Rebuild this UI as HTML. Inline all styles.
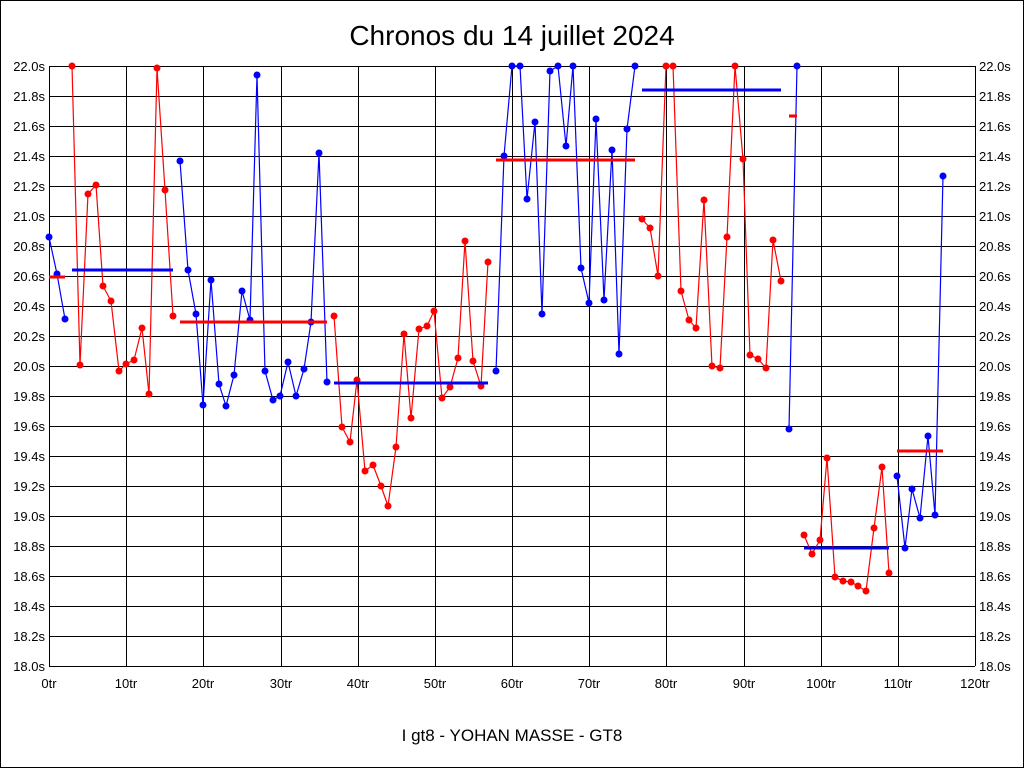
<!DOCTYPE html>
<html><head><meta charset="utf-8"><style>
html,body{margin:0;padding:0;background:#fff;}
svg{display:block;font-family:"Liberation Sans",Arial,sans-serif;}
</style></head><body>
<svg id="s" width="1024" height="768" viewBox="0 0 1024 768" xmlns="http://www.w3.org/2000/svg">
<rect x="0.5" y="0.5" width="1023" height="767" fill="#fff" stroke="#000"/>
<text x="512" y="45" font-size="28" text-anchor="middle">Chronos du 14 juillet 2024</text>
<text x="512" y="741" font-size="17" text-anchor="middle">I gt8 - YOHAN MASSE - GT8</text>
<g id="grid" stroke="#000" stroke-width="1"></g>
<g id="lab" font-size="13"></g>
<g id="data"></g>
</svg>
<script>
var NS="http://www.w3.org/2000/svg";
function el(p,t,a,txt){var e=document.createElementNS(NS,t);for(var k in a)e.setAttribute(k,a[k]);if(txt!=null)e.textContent=txt;p.appendChild(e);return e;}
var g=document.getElementById('grid'),l=document.getElementById('lab'),d=document.getElementById('data');
for(var i=0;i<=20;i++){var y=66+i*30;el(g,'line',{x1:49,x2:975,y1:y+.5,y2:y+.5});
var v=(22-i*0.2).toFixed(1)+'s';
el(l,'text',{x:45,y:y+5,'text-anchor':'end'},v);el(l,'text',{x:979,y:y+5},v);}
for(var j=0;j<=12;j++){var x=Math.round(49+j*926/12);el(g,'line',{x1:x+.5,x2:x+.5,y1:66,y2:666});
el(l,'text',{x:x,y:688,'text-anchor':'middle'},(j*10)+'tr');}
var R='#ff0000',B='#0000ff';
var segs=[
[B,[[49,237],[57,274],[65,319]],[277,49,65,R]],
[R,[[72,66],[80,365],[88,194],[96,185],[103,286],[111,301],[119,371],[126,364],[134,360],[142,328],[149,394],[157,68],[165,190],[173,316]],[270,72,173,B]],
[B,[[180,161],[188,270],[196,314],[203,405],[211,280],[219,384],[226,406],[234,375],[242,291],[250,320],[257,75],[265,371],[273,400],[280,396],[288,362],[296,396],[304,369],[311,322],[319,153],[327,382]],[322,180,327,R]],
[R,[[334,316],[342,427],[350,442],[357,380],[365,471],[373,465],[381,486],[388,506],[396,447],[404,334],[411,418],[419,329],[427,326],[434,311],[442,398],[450,387],[458,358],[465,241],[473,361],[481,386],[488,262]],[383,334,488,B]],
[B,[[496,371],[504,156],[512,66],[520,66],[527,199],[535,122],[542,314],[550,71],[558,66],[566,146],[573,66],[581,268],[589,303],[596,119],[604,300],[612,150],[619,354],[627,129],[635,66]],[160,496,635,R]],
[R,[[642,219],[650,228],[658,276],[666,66],[673,66],[681,291],[689,320],[696,328],[704,200],[712,366],[720,368],[727,237],[735,66],[743,159],[750,355],[758,359],[766,368],[773,240],[781,281]],[90,642,781,B]],
[B,[[789,429],[797,66]],[116,789,797,R]],
[R,[[804,535],[812,554],[820,540],[827,458],[835,577],[843,581],[851,582],[858,586],[866,591],[874,528],[882,467],[889,573]],[548,804,889,B]],
[B,[[897,476],[905,548],[912,489],[920,518],[928,436],[935,515],[943,176]],[451,897,943,R]]];
segs.forEach(function(s){
el(d,'polyline',{points:s[1].map(function(p){return p.join(',')}).join(' '),fill:'none',stroke:s[0],'stroke-width':1.2});
s[1].forEach(function(p){el(d,'circle',{cx:p[0],cy:p[1],r:3.5,fill:s[0]});});
var a=s[2];el(d,'line',{x1:a[1],x2:a[2],y1:a[0],y2:a[0],stroke:a[3],'stroke-width':3});
});
</script>
</body></html>
